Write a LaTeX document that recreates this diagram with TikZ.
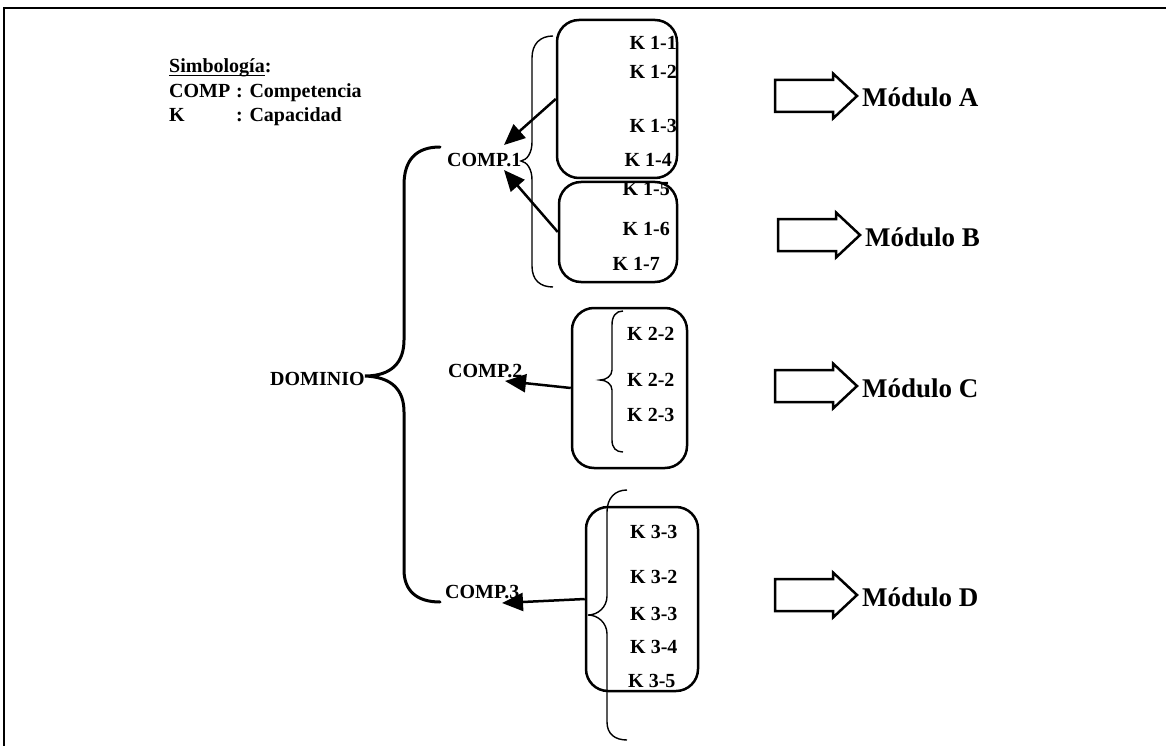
\documentclass[tikz,border=0pt]{standalone}
\usepackage{fontspec}
\setmainfont{Liberation Serif}
\usetikzlibrary{arrows.meta,calc}
\newcommand\myul[1]{\setbox0\hbox{#1}\rlap{\rule[-3pt]{\wd0}{1.3pt}}\box0}
\begin{document}
\begin{tikzpicture}[x=1pt,y=-1pt,
 lbl/.style={font=\fontsize{20}{24}\selectfont\bfseries, inner sep=0pt},
 modlbl/.style={font=\fontsize{27}{32}\selectfont\bfseries, inner sep=0pt, anchor=base west},
 kbox/.style={draw, line width=2.5pt, rounded corners=22pt, inner sep=0pt},
 bigbrace/.style={line width=3pt, line cap=round},
 thinbrace/.style={line width=1.4pt},
 karrow/.style={line width=2.5pt, -{Triangle[length=21pt,width=18pt]}},
 blockarrow/.style={line width=2.5pt, line join=miter}
]
\useasboundingbox (0,0) rectangle (1166,746);
% frame
\draw[line width=2pt] (3,8) -- (1166,8);
\draw[line width=1.5pt] (4,8) -- (4,746);

% legend
\node[lbl, anchor=base west] (leg0) at (169,73) {\myul{Simbología}:};
\node[lbl, anchor=base west] (leg1) at (169,98) {COMP};
\node[lbl, anchor=base west] (leg1b) at (236,98) {: Competencia};
\node[lbl, anchor=base west] (leg2) at (169,122) {K};
\node[lbl, anchor=base west] (leg2b) at (236,122) {: Capacidad};

% domain and competences
\node[lbl, anchor=base west] (dom) at (270,385) {DOMINIO};
\node[lbl, anchor=base west] (c1) at (447,167) {COMP.1};
\node[lbl, anchor=base west] (c2) at (448,377) {COMP.2};
\node[lbl, anchor=base west] (c3) at (445,598) {COMP.3};

% big brace
\draw[bigbrace] (440,147) .. controls (416,147) and (404,160) .. (404,185) -- (404,340)
  .. controls (404,362) and (392,376) .. (dom.east |- 0,376)
  .. controls (392,377) and (404,390) .. (404,412) -- (404,570)
  .. controls (404,590) and (416,602) .. (440,602);

% boxes
\node[kbox, minimum width=120pt, minimum height=158pt] (boxA) at (617,99) {};
\node[kbox, minimum width=118pt, minimum height=100pt] (boxB) at (618,232) {};
\node[kbox, minimum width=115pt, minimum height=160pt] (boxC) at (629.5,388) {};
\node[kbox, minimum width=112pt, minimum height=184pt] (boxD) at (642,599) {};

% K labels
\node[lbl, anchor=base east] (k11) at (677,50) {K 1-1};
\node[lbl, anchor=base east] (k12) at (677,79) {K 1-2};
\node[lbl, anchor=base east] (k13) at (677,133) {K 1-3};
\node[lbl, anchor=base east] (k14) at (672,167) {K 1-4};
\node[lbl, anchor=base east] (k15) at (670,195) {K 1-5};
\node[lbl, anchor=base east] (k16) at (670,235) {K 1-6};
\node[lbl, anchor=base east] (k17) at (660,270) {K 1-7};

\node[lbl, anchor=base west] (k21) at (627,340) {K 2-2};
\node[lbl, anchor=base west] (k22) at (627,386) {K 2-2};
\node[lbl, anchor=base west] (k23) at (627,421) {K 2-3};

\node[lbl, anchor=base west] (k31) at (630,538) {K 3-3};
\node[lbl, anchor=base west] (k32) at (630,583) {K 3-2};
\node[lbl, anchor=base west] (k33) at (630,620) {K 3-3};
\node[lbl, anchor=base west] (k34) at (630,653) {K 3-4};
\node[lbl, anchor=base west] (k35) at (628,687) {K 3-5};

% thin braces
\draw[thinbrace] (553,36) .. controls (540,36) and (532,44) .. (532,58) -- (532,142)
  .. controls (532,153) and (527,160) .. (521,161)
  .. controls (527,162) and (532,169) .. (532,180) -- (532,266)
  .. controls (532,280) and (540,287) .. (553,287);
\draw[thinbrace] (623,311) .. controls (616,311) and (612,316) .. (612,325) -- (612,370)
  .. controls (612,376) and (606,380) .. (600,380)
  .. controls (606,380) and (612,384) .. (612,390) -- (612,440)
  .. controls (612,448) and (616,452) .. (623,452);
\draw[thinbrace] (627,490) .. controls (615,490) and (607,498) .. (607,512) -- (607,596)
  .. controls (607,607) and (598,615) .. (588,615)
  .. controls (598,615) and (607,623) .. (607,634) -- (607,722)
  .. controls (607,734) and (615,740) .. (627,740);

% arrows to competences
\coordinate (t1) at (504,145);
\coordinate (t2) at (504,170);
\coordinate (t3) at (505,381);
\coordinate (t4) at (502,603);
\draw[karrow] (boxA.west) -- (t1);
\draw[karrow] (boxB.west) -- (t2);
\draw[karrow] (boxC.west) -- (t3);
\draw[karrow] (boxD.west) -- (t4);

% module arrows
\foreach \n/\tx/\ty in {A/857/96, B/860/235, C/857/386, D/857/595} {
  \draw[blockarrow] (\tx-82,\ty-16) -- (\tx-24,\ty-16) -- (\tx-24,\ty-22.5) -- (\tx,\ty)
     -- (\tx-24,\ty+22.5) -- (\tx-24,\ty+16) -- (\tx-82,\ty+16) -- cycle;
  \coordinate (tip\n) at (\tx,\ty);
  \node[modlbl] (mod\n) at ($(tip\n)+(5,11)$) {Módulo \n};
}
\end{tikzpicture}
\end{document}
